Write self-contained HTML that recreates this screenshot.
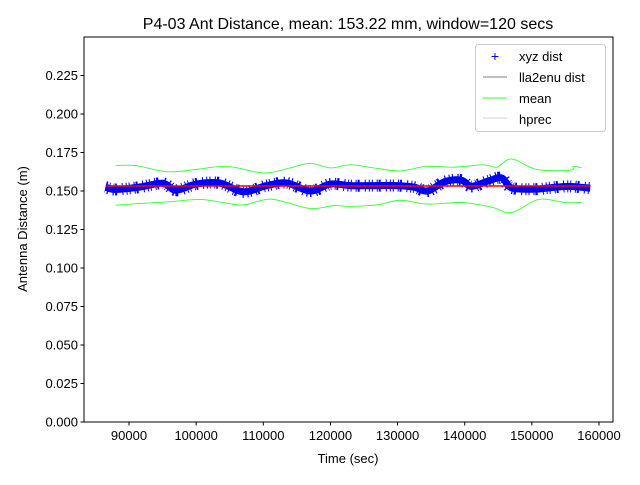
<!DOCTYPE html>
<html><head><meta charset="utf-8"><style>
body{margin:0;background:#fff;}
svg{font-family:"Liberation Sans",sans-serif;}
</style></head><body>
<svg width="640" height="480">
<g id="root"></g>
<text x="348" y="29" text-anchor="middle" font-size="16">P4-03 Ant Distance, mean: 153.22 mm, window=120 secs</text>
<text x="348" y="463" text-anchor="middle" font-size="13">Time (sec)</text>
<text x="27" y="229" text-anchor="middle" font-size="13" transform="rotate(-90 27 229)">Antenna Distance (m)</text>
<g>
<rect x="475.5" y="44.5" width="130" height="87" rx="3" fill="#fff" fill-opacity="0.8" stroke="#ccc"/>
<text x="495" y="61" text-anchor="middle" font-size="14" fill="#0000ff">+</text>
<text x="519" y="61" font-size="13">xyz dist</text>
<line x1="483" x2="507" y1="77" y2="77" stroke="#000" stroke-width="0.6"/>
<text x="519" y="82" font-size="13">lla2enu dist</text>
<line x1="483" x2="507" y1="98" y2="98" stroke="#33ff33" stroke-width="0.9"/>
<text x="519" y="103" font-size="13">mean</text>
<line x1="483" x2="507" y1="118" y2="118" stroke="#aaa" stroke-width="0.6"/>
<text x="519" y="124" font-size="13">hprec</text>
</g>
</svg>
<script>
const tickY=[0,0.025,0.05,0.075,0.1,0.125,0.15,0.175,0.2,0.225];
const tickX=[90000,100000,110000,120000,130000,140000,150000,160000];
const centerT=[86500,88000,91500,95000,97000,100000,103500,107000,110500,113500,117000,120000,123000,126500,130000,132500,134500,137000,139500,141000,143500,145500,147000,150500,152500,155500,158700];
const centerV=[0.1525,0.151,0.1525,0.155,0.1505,0.1545,0.1552,0.1495,0.1535,0.1552,0.150,0.1545,0.1535,0.1535,0.1535,0.1525,0.150,0.156,0.157,0.153,0.1565,0.1585,0.152,0.1512,0.152,0.153,0.1518];
const upperT=[88000,91000,95700,100000,104600,110100,114000,117000,120000,123000,126500,130400,134300,138500,142800,144800,147000,150700,155700,156200,157400];
const upperV=[0.1665,0.1665,0.1625,0.164,0.166,0.1617,0.165,0.168,0.165,0.167,0.165,0.163,0.166,0.1655,0.167,0.1655,0.1708,0.164,0.1635,0.166,0.165];
const lowerT=[88000,92000,96000,100500,104000,107000,110800,113500,117100,120500,123000,127000,130400,134500,139700,144000,147000,151000,155000,157400];
const lowerV=[0.1408,0.142,0.143,0.1445,0.1425,0.141,0.1447,0.1425,0.1385,0.1405,0.140,0.141,0.144,0.1415,0.1425,0.1395,0.136,0.1445,0.1425,0.1425];
const meanV=0.15322;
const L=84,R=613,T=37,B=422;
const xMin=83298,xMax=162085,yMin=0,yMax=0.25;
const X=t=>L+(t-xMin)/(xMax-xMin)*(R-L);
const Y=v=>B-(v-yMin)/(yMax-yMin)*(B-T);
const NS="http://www.w3.org/2000/svg";
const root=document.getElementById('root');
function mk(tag,attrs,parent){const e=document.createElementNS(NS,tag);for(const k in attrs)e.setAttribute(k,attrs[k]);(parent||root).appendChild(e);return e;}
function smooth(ts,vs){const p=ts.map((t,i)=>[X(t),Y(vs[i])]);let d='M'+p[0][0]+','+p[0][1];
for(let i=0;i<p.length-1;i++){const p0=p[i-1]||p[i],p1=p[i],p2=p[i+1],p3=p[i+2]||p2;
d+=' C'+(p1[0]+(p2[0]-p0[0])/6)+','+(p1[1]+(p2[1]-p0[1])/6)+' '+(p2[0]-(p3[0]-p1[0])/6)+','+(p2[1]-(p3[1]-p1[1])/6)+' '+p2[0]+','+p2[1];}return d;}
const cd=smooth(centerT,centerV);
let fuzz=mk('path',{d:cd,fill:'none',stroke:'#0000ff','stroke-width':12,'stroke-dasharray':'1 2 1 4 1 1 2 5 1 3'});


let band=mk('path',{d:cd,fill:'none',stroke:'#0000ff','stroke-width':7});


let up=mk('path',{d:smooth(upperT,upperV),fill:'none',stroke:'#33ff33','stroke-width':0.9});


let lo=mk('path',{d:smooth(lowerT,lowerV),fill:'none',stroke:'#33ff33','stroke-width':0.9});


let ml=mk('line',{x1:X(centerT[0]),x2:X(centerT[centerT.length-1]),y1:Y(meanV),y2:Y(meanV),stroke:'#ff0000','stroke-width':1.5});


let ax=mk('rect',{x:L,y:T,width:R-L,height:B-T,fill:'none',stroke:'#000','stroke-width':1});


tickY.forEach(v=>{mk('line',{x1:L-3.5,x2:L,y1:Y(v),y2:Y(v),stroke:'#000'});const t=mk('text',{x:L-6,y:Y(v)+4.5,'text-anchor':'end','font-size':13});t.textContent=v.toFixed(3);

});
tickX.forEach(v=>{mk('line',{x1:X(v),x2:X(v),y1:B,y2:B+3.5,stroke:'#000'});const t=mk('text',{x:X(v),y:B+18,'text-anchor':'middle','font-size':13});t.textContent=v;

});
</script>
</body></html>
